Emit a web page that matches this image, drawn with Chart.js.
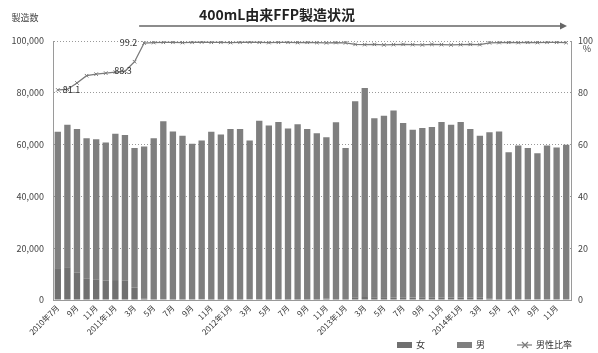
<!DOCTYPE html>
<html>
<head>
<meta charset="utf-8">
<script src="https://cdn.jsdelivr.net/npm/chart.js@4"></script>
<style>
  html, body { margin: 0; padding: 0; background: #fff; }
  #wrap { width: 598px; height: 353px; }
</style>
</head>
<body>
<div id="wrap"><canvas id="c" width="598" height="353"></canvas></div>
<script>
// Monthly production of FFP from 400mL donations, July 2010 – December 2014
const months = [
  "2010年7月","8月","9月","10月","11月","12月",
  "2011年1月","2月","3月","4月","5月","6月","7月","8月","9月","10月","11月","12月",
  "2012年1月","2月","3月","4月","5月","6月","7月","8月","9月","10月","11月","12月",
  "2013年1月","2月","3月","4月","5月","6月","7月","8月","9月","10月","11月","12月",
  "2014年1月","2月","3月","4月","5月","6月","7月","8月","9月","10月","11月","12月"
];

// Units produced from female donors
const female = [
  12290, 12660, 10690, 8380, 7950, 7540, 7700, 7450, 4700, 470,
  380, 350, 330, 380, 300, 250, 330, 320, 400, 330,
  250, 350, 400, 340, 330, 410, 330, 390, 440, 410,
  410, 1000, 1150, 910, 1070, 1020, 890, 920, 1000, 870,
  960, 1020, 960, 860, 890, 450, 390, 290, 360, 290,
  340, 300, 290, 360
];

// Units produced from male donors
const male = [
  52710, 55040, 55310, 54120, 54150, 53260, 56500, 56250, 54000, 58830,
  62120, 68650, 64770, 63020, 60000, 61350, 64670, 63580, 65600, 65670,
  61350, 68850, 67000, 68360, 65870, 67490, 65670, 64010, 62360, 68190,
  58290, 75700, 80750, 69290, 70030, 72180, 67410, 64780, 65400, 65930,
  67740, 66680, 67740, 65140, 62510, 64350, 64710, 56710, 59340, 58410,
  56360, 59400, 58610, 59540
];

// Share of male donors (%)
const maleRatio = [
  81.1, 81.3, 83.8, 86.6, 87.2, 87.6, 88.0, 88.3, 92.0, 99.2,
  99.4, 99.5, 99.5, 99.4, 99.5, 99.6, 99.5, 99.5, 99.4, 99.5,
  99.6, 99.5, 99.4, 99.5, 99.5, 99.4, 99.5, 99.4, 99.3, 99.4,
  99.3, 98.7, 98.6, 98.7, 98.5, 98.6, 98.7, 98.6, 98.5, 98.7,
  98.6, 98.5, 98.6, 98.7, 98.6, 99.3, 99.4, 99.5, 99.4, 99.5,
  99.4, 99.5, 99.5, 99.4
];

// Points of the ratio line that carry a value label
const ratioLabelIndex = [0, 7, 9];

const countTicks = [0, 20000, 40000, 60000, 80000, 100000];
const ratioTicks = [0, 20, 40, 60, 80, 100];

const FONT = "'Noto Sans CJK JP', 'Noto Sans', sans-serif";
const FEMALE_COLOR = '#707070';
const MALE_COLOR = '#7f7f7f';
const RATIO_COLOR = '#7a7a7a';

const decorations = {
  id: 'decorations',
  afterDraw(chart) {
    const ctx = chart.ctx;
    const x = chart.scales.x;
    const area = chart.chartArea;
    ctx.save();

    // Main title
    ctx.fillStyle = '#222';
    ctx.font = `bold 14px ${FONT}`;
    ctx.textAlign = 'center';
    ctx.textBaseline = 'middle';
    ctx.fillText('400mL由来FFP製造状況', 277, 15);

    // Arrow marking the 400mL-only period
    const ax0 = x.getPixelForValue(9) - 5;
    const ax1 = area.right - 4;
    const ay = 26;
    ctx.strokeStyle = '#666';
    ctx.fillStyle = '#666';
    ctx.lineWidth = 1.6;
    ctx.beginPath();
    ctx.moveTo(ax0, ay);
    ctx.lineTo(ax1 - 4, ay);
    ctx.stroke();
    ctx.beginPath();
    ctx.moveTo(ax1, ay);
    ctx.lineTo(ax1 - 7, ay - 3.5);
    ctx.lineTo(ax1 - 7, ay + 3.5);
    ctx.closePath();
    ctx.fill();

    // Axis captions
    ctx.fillStyle = '#444';
    ctx.font = `9px ${FONT}`;
    ctx.textAlign = 'center';
    ctx.fillText('製造数', 25, 18);
    ctx.fillText('%', 587, 49);

    // Value labels on the ratio line
    const meta = chart.getDatasetMeta(2);
    ctx.font = `9px ${FONT}`;
    ctx.fillStyle = '#333';
    ratioLabelIndex.forEach((i, k) => {
      const pt = meta.data[i];
      const txt = maleRatio[i].toFixed(1);
      if (k === 0) { ctx.textAlign = 'left'; ctx.fillText(txt, pt.x + 5, pt.y); }
      else if (k === 1) { ctx.textAlign = 'center'; ctx.fillText(txt, pt.x - 2, pt.y - 1); }
      else { ctx.textAlign = 'right'; ctx.fillText(txt, pt.x - 7, pt.y); }
    });

    // Legend
    const ly = 345;
    let lx = 397;
    ctx.textAlign = 'left';
    ctx.fillStyle = '#333';
    chart.data.datasets.forEach(ds => {
      if (ds.type === 'line') {
        ctx.strokeStyle = RATIO_COLOR;
        ctx.lineWidth = 1.2;
        ctx.beginPath();
        ctx.moveTo(lx, ly);
        ctx.lineTo(lx + 15, ly);
        ctx.stroke();
        ctx.beginPath();
        ctx.moveTo(lx + 5, ly - 3); ctx.lineTo(lx + 11, ly + 3);
        ctx.moveTo(lx + 11, ly - 3); ctx.lineTo(lx + 5, ly + 3);
        ctx.stroke();
      } else {
        ctx.fillStyle = ds.backgroundColor;
        ctx.fillRect(lx, ly - 3, 15, 6);
      }
      ctx.fillStyle = '#333';
      ctx.fillText(ds.label, lx + 19, ly);
      lx += 19 + ctx.measureText(ds.label).width + 32;
    });

    ctx.restore();
  }
};

new Chart(document.getElementById('c'), {
  data: {
    labels: months,
    datasets: [
      {
        type: 'bar', label: '女', data: female,
        backgroundColor: FEMALE_COLOR, yAxisID: 'y', stack: 'count', order: 2,
        categoryPercentage: 0.66, barPercentage: 1
      },
      {
        type: 'bar', label: '男', data: male,
        backgroundColor: MALE_COLOR, yAxisID: 'y', stack: 'count', order: 2,
        categoryPercentage: 0.66, barPercentage: 1
      },
      {
        type: 'line', label: '男性比率', data: maleRatio,
        borderColor: RATIO_COLOR, borderWidth: 1.3, backgroundColor: RATIO_COLOR,
        pointStyle: 'crossRot', pointRadius: 2.5, pointBorderWidth: 1,
        pointBorderColor: RATIO_COLOR, yAxisID: 'y1', order: 0, tension: 0
      }
    ]
  },
  options: {
    responsive: false,
    animation: false,
    layout: { padding: { top: 41, left: 0, right: 0, bottom: 0 } },
    plugins: { legend: { display: false }, tooltip: { enabled: false }, title: { display: false } },
    scales: {
      x: {
        stacked: true,
        grid: { display: false, drawTicks: false },
        border: { display: true, color: '#999', width: 1 },
        ticks: {
          autoSkip: false, maxRotation: 45, minRotation: 45, padding: 3,
          color: '#333', font: { family: FONT, size: 8 },
          callback: (v, i) => (i % 2 === 0 ? months[i] : '')
        },
        afterFit(scale) { scale.height = 53; }
      },
      y: {
        stacked: true, position: 'left', min: 0, max: 100000,
        afterBuildTicks(scale) { scale.ticks = countTicks.map(v => ({ value: v })); },
        grid: { color: '#9a9a9a', lineWidth: 1, drawTicks: false },
        border: { display: true, color: '#9a9a9a', dash: [1, 2] },
        ticks: {
          padding: 9, color: '#444', font: { family: FONT, size: 9 },
          callback: v => v.toLocaleString('en-US')
        },
        afterFit(scale) { scale.width = 53; }
      },
      y1: {
        position: 'right', min: 0, max: 100,
        afterBuildTicks(scale) { scale.ticks = ratioTicks.map(v => ({ value: v })); },
        grid: { display: false, drawTicks: false },
        border: { display: true, color: '#9a9a9a', dash: [1, 2] },
        ticks: { padding: 7, color: '#444', font: { family: FONT, size: 9 } },
        afterFit(scale) { scale.width = 27; }
      }
    }
  },
  plugins: [decorations]
});
</script>
</body>
</html>
